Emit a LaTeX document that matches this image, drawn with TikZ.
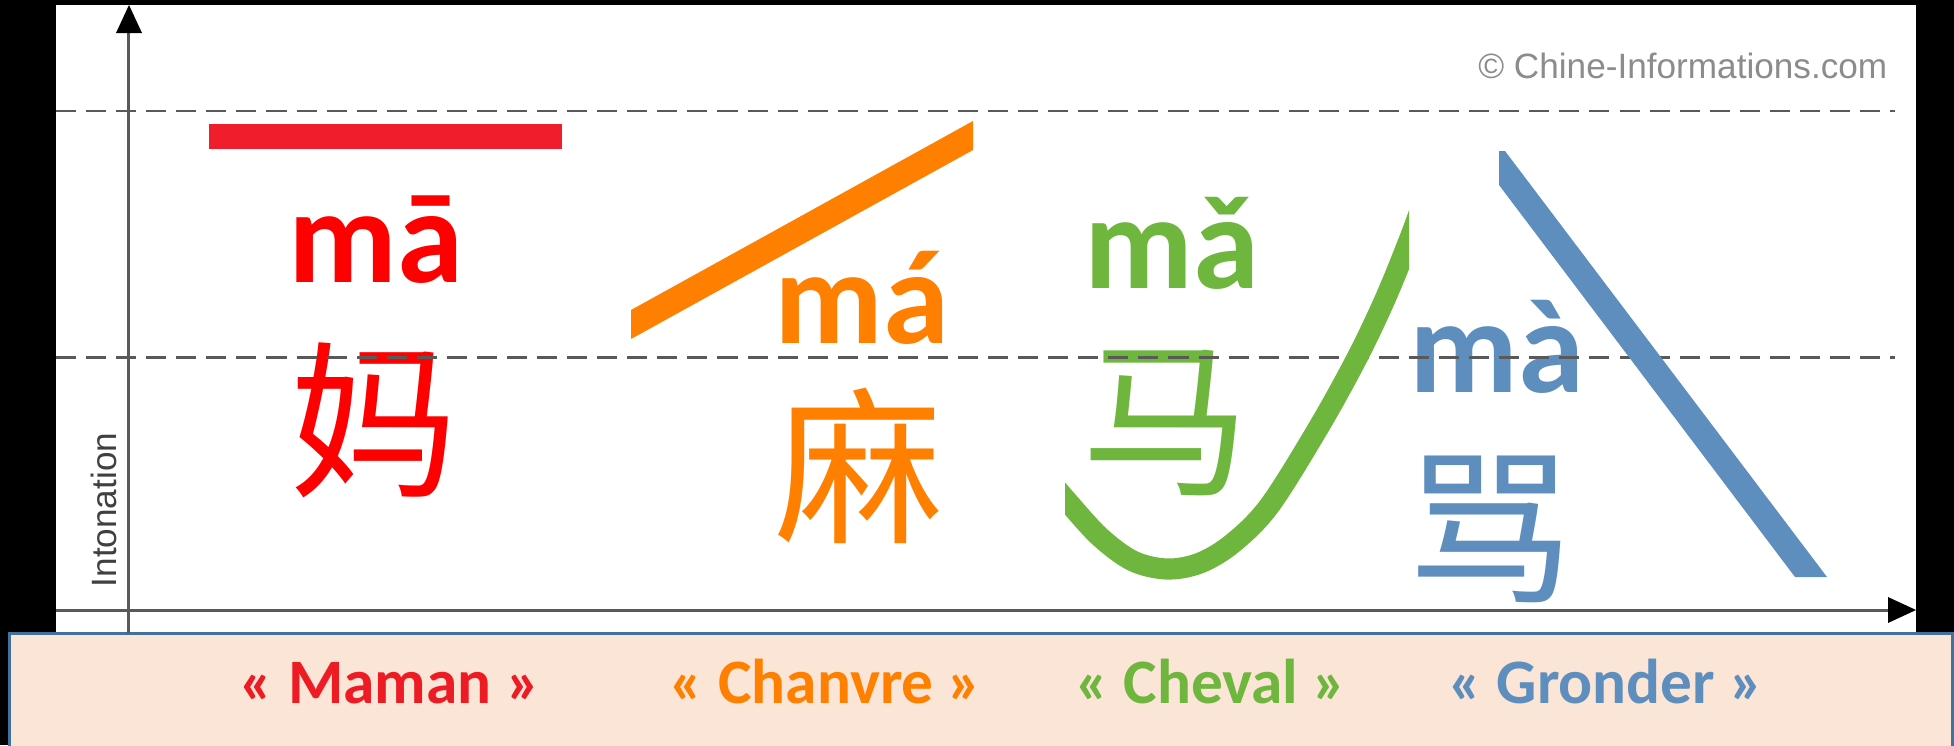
\documentclass[tikz,border=0pt]{standalone}
\usepackage{fontspec}
\setmainfont{Carlito}
\newfontfamily\cjk{Noto Sans CJK SC}
\newfontfamily\lib{Liberation Sans}
\definecolor{tred}{RGB}{255,0,0}
\definecolor{barred}{RGB}{240,30,44}
\definecolor{lblred}{RGB}{237,28,36}
\definecolor{torange}{RGB}{255,128,0}
\definecolor{tgreen}{RGB}{110,182,62}
\definecolor{tblue}{RGB}{94,142,190}
\definecolor{axisgray}{RGB}{89,89,89}
\definecolor{peach}{RGB}{251,229,214}
\definecolor{boxblue}{RGB}{65,113,156}
\begin{document}
\begin{tikzpicture}[x=0.01cm,y=-0.01cm,
  pinyin/.style={font=\bfseries\fontsize{38}{40}\selectfont, inner sep=0pt, anchor=base},
  hanzi/.style={font=\cjk\fontsize{48}{50}\selectfont, inner sep=0pt, anchor=center},
  meaning/.style={font=\bfseries\fontsize{18}{20}\selectfont, inner sep=0pt, anchor=base},
  guide/.style={draw=axisgray, line width=0.85pt, dash pattern=on 5.7pt off 2.85pt},
  axisline/.style={draw=axisgray, line width=0.85pt},
  tip/.style={fill=black}]
\useasboundingbox (0,0) rectangle (1954,745);
\fill[black] (0,0) rectangle (1954,745);
% chart area
\fill[white] (56,5) rectangle (1916,633);
% legend box
\draw[boxblue, line width=0.85pt, fill=peach] (9.5,633.5) rectangle (1952.5,760);

% copyright and axis title
\node[font=\lib\fontsize{10}{12}\selectfont, text=black!45, inner sep=0pt, anchor=base east] (copy) at (1888,78) {© Chine-Informations.com};
\node[font=\lib\fontsize{10}{12}\selectfont, text=black!75, inner sep=0pt, anchor=base, rotate=90] (ylab) at (116,510) {Intonation};

% pinyin
\node[pinyin, text=tred] (p1) at (376,282) {mā};
\node[pinyin, text=torange] (p2) at (862,343) {má};
\node[pinyin, text=tgreen] (p3) at (1172,288) {mǎ};
\node[pinyin, text=tblue] (p4) at (1497,392) {mà};

% characters
\node[hanzi, text=tred] (h1) at (374,420) {妈};
\node[hanzi, text=torange] (h2) at (859,466) {麻};
\node[hanzi, text=tgreen] (h3) at (1166,423) {马};
\node[hanzi, text=tblue] (h4) at (1490,529) {骂};

% guide lines
\draw[guide] (56,111) -- (1895,111);
\draw[guide] (56,357) -- (1895,357);

% axes
\draw[axisline] (128.5,633) -- (128.5,30);
\fill[tip] (129,5) -- (116,33) -- (142,33) -- cycle;
\draw[axisline] (56,610) -- (1890,610);
\fill[tip] (1888,597) -- (1916,610) -- (1888,623) -- cycle;

% tone contours
\fill[barred] (209,124) rectangle (562,149);
\fill[torange] (631,310) -- (973,121) -- (973,150) -- (631,339) -- cycle;
\begin{scope}
  \clip (1065,150) rectangle (1409,600);
  \draw[tgreen, line width=6pt] plot[smooth, tension=0.55] coordinates {(1045,475) (1068,502) (1100,537) (1133,561) (1167,569) (1200,563) (1233,543) (1270,505) (1320,425) (1358,356) (1386,297) (1410,238) (1422,205)};
\end{scope}
\fill[tblue] (1499,151) -- (1505,151) -- (1827,577) -- (1795,577) -- (1499,185) -- cycle;

% meanings
\node[meaning, text=lblred] (m1) at (390,703) {« Maman »};
\node[meaning, text=torange] (m2) at (826,703) {« Chanvre »};
\node[meaning, text=tgreen] (m3) at (1211,703) {« Cheval »};
\node[meaning, text=tblue] (m4) at (1606,703) {« Gronder »};
\end{tikzpicture}
\end{document}
